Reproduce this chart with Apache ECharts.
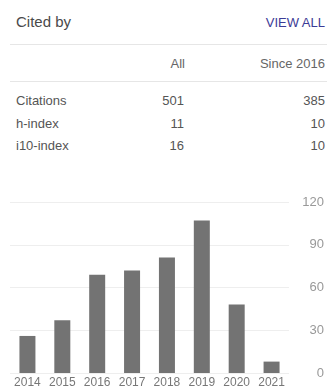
<!DOCTYPE html>
<html>
<head>
<meta charset="utf-8">
<script src="https://cdn.jsdelivr.net/npm/echarts@6/dist/echarts.min.js"></script>
<style>
  html, body { margin: 0; padding: 0; background: #fff; }
  body { width: 327px; height: 389px; position: relative; overflow: hidden;
         font-family: Arial, "Liberation Sans", sans-serif; }
  .t { position: absolute; white-space: nowrap; line-height: 1; }
  .rule { position: absolute; left: 10px; right: 0; height: 1px; background: #e6e6e6; }
  #chart { position: absolute; left: 0; top: 180px; width: 327px; height: 209px; }
</style>
</head>
<body>
<div class="t" style="left:16px;top:14px;font-size:15px;color:#4a4a4a">Cited by</div>
<div class="t" style="right:2px;top:16px;font-size:13px;color:#3b3b96">VIEW ALL</div>
<div class="rule" style="top:44px"></div>
<div class="rule" style="top:81px"></div>
<div id="table"></div>
<div id="chart"></div>
<script>
// table
const colHeads = ['All', 'Since 2016'];
const rowNames = ['Citations', 'h-index', 'i10-index'];
const allVals = [501, 11, 16];
const sinceVals = [385, 10, 10];

// chart
const years = ['2014', '2015', '2016', '2017', '2018', '2019', '2020', '2021'];
const counts = [26, 37, 69, 72, 81, 107, 48, 8];
const yTicks = [0, 30, 60, 90, 120];

const table = document.getElementById('table');
function addText(txt, css) {
  const d = document.createElement('div');
  d.className = 't';
  d.textContent = txt;
  d.style.cssText = css;
  table.appendChild(d);
}
addText(colHeads[0], 'right:142px;top:57px;font-size:13px;color:#666');
addText(colHeads[1], 'right:2px;top:57px;font-size:13px;color:#666');
const rowTops = [94, 117, 139];
rowNames.forEach((name, i) => {
  addText(name, 'left:16px;top:' + rowTops[i] + 'px;font-size:13px;color:#555');
  addText(String(allVals[i]), 'right:143px;top:' + rowTops[i] + 'px;font-size:13px;color:#555');
  addText(String(sinceVals[i]), 'right:2px;top:' + rowTops[i] + 'px;font-size:13px;color:#555');
});

const chart = echarts.init(document.getElementById('chart'));
chart.setOption({
  animation: false,
  grid: { left: 10, right: 37, top: 22, bottom: 10 },
  xAxis: {
    type: 'category',
    data: years,
    axisLine: { show: false },
    axisTick: { show: false },
    axisLabel: { color: '#777', fontSize: 12, margin: 4, fontFamily: 'Arial, "Liberation Sans"' }
  },
  yAxis: {
    type: 'value',
    position: 'right',
    min: yTicks[0],
    max: yTicks[yTicks.length - 1],
    interval: 30,
    axisLine: { show: false },
    axisTick: { show: false },
    axisLabel: { color: '#999', fontSize: 13, align: 'right', margin: 35, fontFamily: 'Arial, "Liberation Sans"' },
    splitLine: { lineStyle: { color: '#eeeeee' } }
  },
  series: [{
    type: 'bar',
    data: counts,
    barWidth: 16,
    itemStyle: { color: '#737373' }
  }]
});
</script>
</body>
</html>
